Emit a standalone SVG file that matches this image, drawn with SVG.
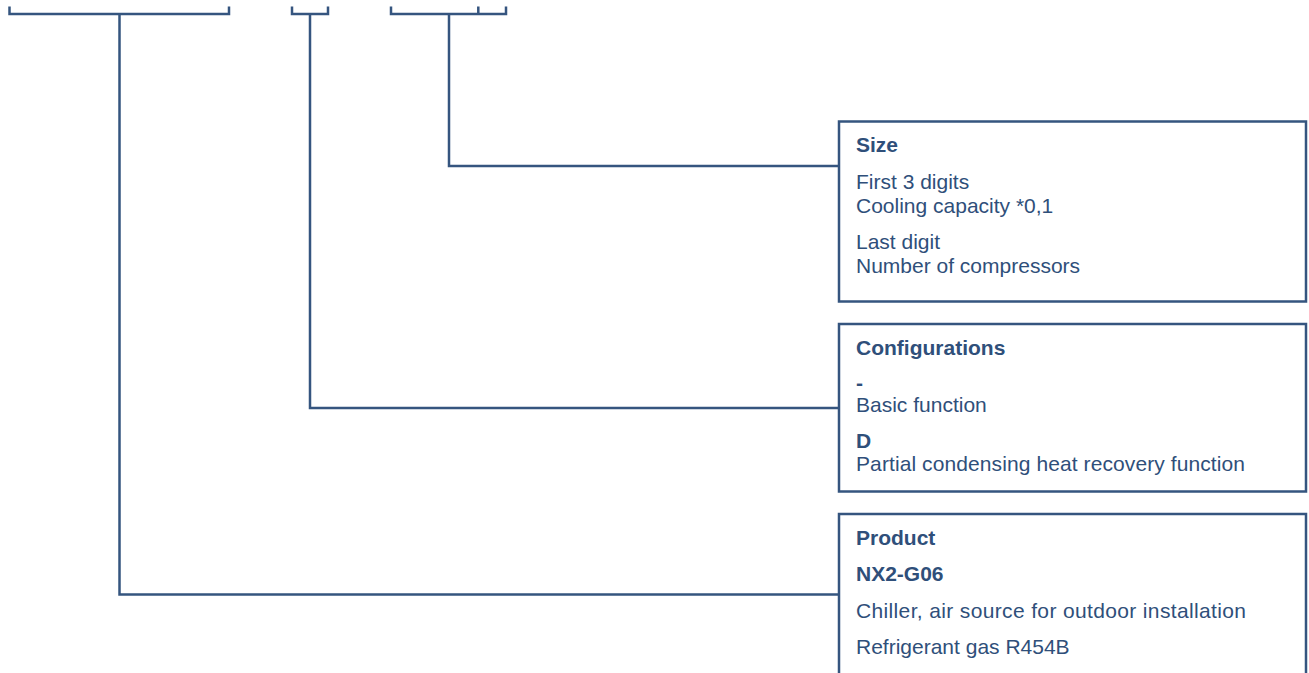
<svg xmlns="http://www.w3.org/2000/svg" width="1309" height="673" viewBox="0 0 1309 673">
<style>
.ln{fill:none;stroke:#35557f;stroke-width:2.5;stroke-linecap:butt;stroke-linejoin:miter}
.box{fill:#ffffff;stroke:#35557f;stroke-width:2.5}
text{font-family:"Liberation Sans",Arial,sans-serif;font-size:21px;fill:#2f4f7a}
.b{font-weight:bold}
</style>
<rect width="1309" height="673" fill="#ffffff"/>
<g id="connectors">
<path class="ln" d="M9.5,6.5 V14 H229 V6.5"/>
<path class="ln" d="M292,6.5 V14 H328 V6.5"/>
<path class="ln" d="M391,6.5 V14 H506 V6.5 M478.3,6.5 V14"/>
<path class="ln" d="M449,14 V166 H839"/>
<path class="ln" d="M310,14 V408 H839"/>
<path class="ln" d="M119.5,14 V594.5 H839"/>
</g>
<g id="size">
<rect class="box" x="839" y="121.5" width="467" height="180"/>
<text class="b" x="856" y="152">Size</text>
<text x="856" y="189">First 3 digits</text>
<text x="856" y="212.5">Cooling capacity *0,1</text>
<text x="856" y="249">Last digit</text>
<text x="856" y="272.5">Number of compressors</text>
</g>
<g id="configurations">
<rect class="box" x="839" y="324" width="467" height="167.5"/>
<text class="b" x="856" y="355">Configurations</text>
<text class="b" x="856" y="390">-</text>
<text x="856" y="411.5">Basic function</text>
<text class="b" x="856" y="448">D</text>
<text x="856" y="470.5" textLength="389" lengthAdjust="spacing">Partial condensing heat recovery function</text>
</g>
<g id="product">
<rect class="box" x="839" y="514" width="467" height="180"/>
<text class="b" x="856" y="545">Product</text>
<text class="b" x="856" y="581">NX2-G06</text>
<text x="856" y="618" textLength="390" lengthAdjust="spacing">Chiller, air source for outdoor installation</text>
<text x="856" y="654">Refrigerant gas R454B</text>
</g>
</svg>
